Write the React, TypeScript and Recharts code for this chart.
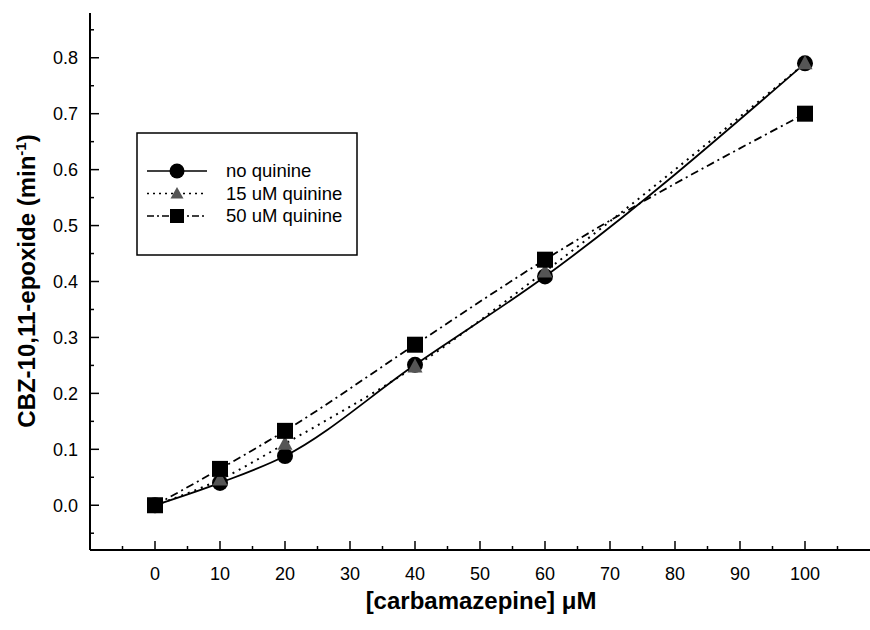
import React from 'react';
import { LineChart, Line, XAxis, YAxis, Legend, Label } from 'recharts';

const concentrations = [0, 10, 20, 40, 60, 100];
const noQuinine = [0, 0.04, 0.088, 0.251, 0.409, 0.79];
const quinine15 = [0, 0.046, 0.11, 0.248, 0.418, 0.79];
const quinine50 = [0, 0.065, 0.133, 0.287, 0.439, 0.7];

const xTicks = [-5, 0, 5, 10, 15, 20, 25, 30, 35, 40, 45, 50, 55, 60, 65, 70, 75, 80, 85, 90, 95, 100, 105];
const yTicks = [-0.05, 0, 0.05, 0.1, 0.15, 0.2, 0.25, 0.3, 0.35, 0.4, 0.45, 0.5, 0.55, 0.6, 0.65, 0.7, 0.75, 0.8, 0.85];

const seriesNames = ['no quinine', '15 uM quinine', '50 uM quinine'];

const data = concentrations.map((c, i) => ({
  conc: c,
  none: noQuinine[i],
  q15: quinine15[i],
  q50: quinine50[i],
}));

const FONT = '"Liberation Sans", Arial, Helvetica, sans-serif';

const XTick = (props: any) => {
  const { x, y, payload } = props;
  const major = Math.round(payload.value) % 10 === 0;
  return (
    <g>
      <line x1={x} x2={x} y1={y} y2={y - (major ? 9 : 4)} stroke='#000' strokeWidth={1.5} />
      {major && (
        <text x={x} y={y + 30} textAnchor='middle' fontSize={18} fill='#000' fontFamily={FONT}>
          {payload.value}
        </text>
      )}
    </g>
  );
};

const YTick = (props: any) => {
  const { x, y, payload } = props;
  const major = Math.round(payload.value * 100) % 10 === 0;
  return (
    <g>
      <line x1={x} x2={x + (major ? 9 : 4)} y1={y} y2={y} stroke='#000' strokeWidth={1.5} />
      {major && (
        <text x={x - 12} y={y + 6.5} textAnchor='end' fontSize={18} fill='#000' fontFamily={FONT}>
          {payload.value.toFixed(1)}
        </text>
      )}
    </g>
  );
};

const circleDot = (p: any) => <circle key={p.key} cx={p.cx} cy={p.cy} r={8} fill='#000' />;
const triangleDot = (p: any) => (
  <polygon
    key={p.key}
    points={`${p.cx},${p.cy - 8} ${p.cx - 7.5},${p.cy + 6} ${p.cx + 7.5},${p.cy + 6}`}
    fill='#555'
  />
);
const squareDot = (p: any) => <rect key={p.key} x={p.cx - 8} y={p.cy - 8} width={16} height={16} fill='#000' />;

const renderLegend = () => {
  const rows = [
    { dash: undefined, marker: 'circle' },
    { dash: '2 4', marker: 'triangle' },
    { dash: '7 3 2 3', marker: 'square' },
  ];
  return (
    <svg width={222} height={124} style={{ display: 'block' }}>
      <rect x={1} y={1} width={220} height={122} fill='#fff' stroke='#000' strokeWidth={1.5} />
      {rows.map((r, i) => {
        const cy = 39 + i * 22.5;
        const cx = 41;
        return (
          <g key={i}>
            <line x1={11} x2={71} y1={cy} y2={cy} stroke='#000' strokeWidth={1.5} strokeDasharray={r.dash} />
            {r.marker === 'circle' && <circle cx={cx} cy={cy} r={7.5} fill='#000' />}
            {r.marker === 'triangle' && (
              <polygon points={`${cx},${cy - 6.5} ${cx - 6.5},${cy + 5} ${cx + 6.5},${cy + 5}`} fill='#555' />
            )}
            {r.marker === 'square' && <rect x={cx - 7} y={cy - 7} width={14} height={14} fill='#000' />}
            <text x={90} y={cy + 6} fontSize={18.5} fill='#000' fontFamily={FONT}>
              {seriesNames[i]}
            </text>
          </g>
        );
      })}
    </svg>
  );
};

const YTitle = () => (
  <text
    transform='translate(35, 281) rotate(-90)'
    textAnchor='middle'
    fontSize={24}
    fontWeight='bold'
    fill='#000'
    fontFamily={FONT}
  >
    CBZ-10,11-epoxide (min
    <tspan dy={-9} fontSize={15}>-1</tspan>
    <tspan dy={9}>)</tspan>
  </text>
);

const XTitle = () => (
  <text x={481} y={609} textAnchor='middle' fontSize={24} fontWeight='bold' fill='#000' fontFamily={FONT}>
    [carbamazepine] μM
  </text>
);

export default function App() {
  return (
    <div
      style={{
        position: 'absolute',
        left: 0,
        top: 0,
        width: 870,
        height: 630,
        background: '#fff',
        fontFamily: FONT,
      }}
    >
      <LineChart width={870} height={630} data={data} margin={{ top: 13, right: 0, bottom: 0, left: 30 }}>
        <XAxis
          dataKey='conc'
          type='number'
          domain={[-10, 110]}
          ticks={xTicks}
          interval={0}
          allowDataOverflow
          height={80}
          tickLine={false}
          tickSize={0}
          tickMargin={0}
          tick={<XTick />}
          axisLine={{ stroke: '#000', strokeWidth: 2 }}
        >
          <Label content={<XTitle />} />
        </XAxis>
        <YAxis
          type='number'
          domain={[-0.08, 0.88]}
          ticks={yTicks}
          interval={0}
          allowDataOverflow
          width={60}
          tickLine={false}
          tickSize={0}
          tickMargin={0}
          tick={<YTick />}
          axisLine={{ stroke: '#000', strokeWidth: 2 }}
        >
          <Label content={<YTitle />} />
        </YAxis>
        <Legend
          layout='vertical'
          align='center'
          verticalAlign='middle'
          content={renderLegend}
          wrapperStyle={{ left: 136, top: 132, width: 222, height: 124 }}
        />
        <Line
          type='monotone'
          dataKey='none'
          stroke='#000'
          strokeWidth={1.8}
          dot={circleDot}
          activeDot={false}
          isAnimationActive={false}
        />
        <Line
          type='monotone'
          dataKey='q15'
          stroke='#000'
          strokeWidth={2}
          strokeDasharray='2 5'
          dot={triangleDot}
          activeDot={false}
          isAnimationActive={false}
        />
        <Line
          type='monotone'
          dataKey='q50'
          stroke='#000'
          strokeWidth={1.8}
          strokeDasharray='8 4 2 4'
          dot={squareDot}
          activeDot={false}
          isAnimationActive={false}
        />
      </LineChart>
    </div>
  );
}
